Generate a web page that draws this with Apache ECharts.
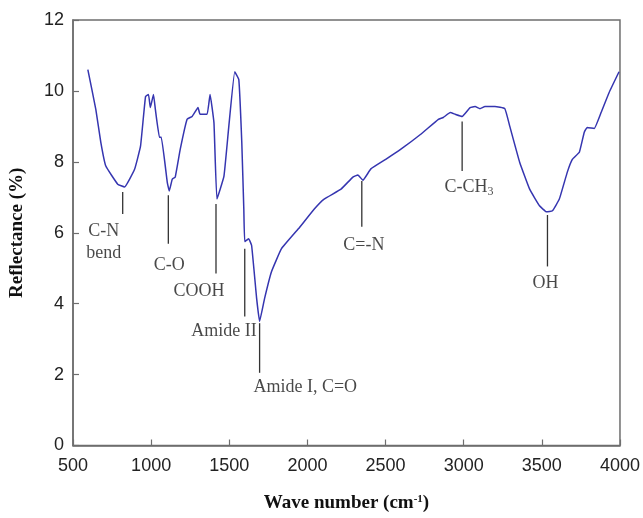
<!DOCTYPE html>
<html lang="en">
<head>
    <meta charset="utf-8">
    <title>Reflectance spectrum</title>
    <script src="https://cdn.jsdelivr.net/npm/echarts@6/dist/echarts.min.js"></script>
    <style>
        html, body {margin: 0; padding: 0; background: #fff;}
        #main {width: 643px; height: 518px;}
    </style>
</head>
<body>
<div id="main"></div>
<script type="text/javascript">
// spectrum
var waveNumber = [595, 646, 678, 710, 786, 830, 894, 932, 964, 983, 995, 1015, 1027, 1053, 1065,
    1103, 1116, 1135, 1154, 1186, 1230, 1262, 1300, 1313, 1358, 1377, 1402, 1421, 1466, 1497,
    1535, 1561, 1580, 1593, 1599, 1624, 1643, 1675, 1694, 1726, 1770, 1834, 1942, 2044, 2107,
    2215, 2291, 2323, 2355, 2406, 2501, 2596, 2723, 2838, 2869, 2914, 2946, 2990, 3041, 3073,
    3104, 3136, 3200, 3263, 3295, 3358, 3422, 3485, 3530, 3568, 3612, 3663, 3695, 3740, 3771,
    3790, 3835, 3879, 3930, 3994];
var reflectance = [10.6, 9.48, 8.55, 7.88, 7.37, 7.29, 7.79, 8.44, 9.84, 9.9, 9.53, 9.9, 9.48, 8.69, 8.69,
    7.43, 7.18, 7.51, 7.57, 8.35, 9.2, 9.28, 9.53, 9.34, 9.34, 9.9, 9.1, 6.95, 7.6, 9.0,
    10.54, 10.32, 8.55, 6.67, 5.75, 5.83, 5.64, 4.15, 3.5, 4.15, 4.9, 5.55, 6.11, 6.67, 6.95,
    7.23, 7.57, 7.63, 7.48, 7.8, 8.07, 8.35, 8.77, 9.2, 9.25, 9.39, 9.34, 9.28, 9.53, 9.56,
    9.5, 9.56, 9.56, 9.5, 9.0, 7.99, 7.23, 6.76, 6.59, 6.62, 6.95, 7.71, 8.07, 8.27, 8.83,
    8.97, 8.94, 9.39, 9.95, 10.54];

// band markers: text, x of the marker line, line top/bottom, label position (data units)
var bandNames = ['C-N\nbend', 'C-O', 'COOH', 'Amide II', 'Amide I, C=O', 'C=-N', 'C-CH3', 'OH'];
var bandX = [818, 1110, 1415, 1599, 1694, 2348, 2990, 3536];
var lineTop = [7.15, 7.06, 6.81, 5.55, 3.45, 7.46, 9.14, 6.5];
var lineBottom = [6.53, 5.69, 4.85, 3.64, 2.05, 6.17, 7.74, 5.05];
var labelX = [697, 1116, 1307, 1466, 1986, 2361, 3034, 3524];
var labelY = [5.72, 5.07, 4.35, 3.22, 1.63, 5.66, 7.29, 4.57];

var xTicks = [500, 1000, 1500, 2000, 2500, 3000, 3500, 4000];
var yTicks = [0, 2, 4, 6, 8, 10, 12];

var spectrum = waveNumber.map(function (w, i) { return [w, reflectance[i]]; });
var markers = bandX.map(function (x, i) { return [x, lineTop[i], lineBottom[i]]; });
var labels = labelX.map(function (x, i) { return [x, labelY[i], bandNames[i]]; });

var myChart = echarts.init(document.getElementById('main'));
var axisGrey = '#6e6e6e';
var serif = '"Liberation Serif", "Times New Roman", serif';

myChart.setOption({
    animation: false,
    grid: {
        left: 70, right: 22, top: 20, bottom: 70,
        show: true, borderColor: axisGrey, borderWidth: 1.5
    },
    xAxis: {
        type: 'value',
        min: xTicks[0], max: xTicks[xTicks.length - 1], interval: 500,
        name: 'Wave number (cm{sup|-1})',
        nameLocation: 'middle', nameGap: 48,
        nameTextStyle: {
            fontFamily: serif, fontWeight: 'bold', fontSize: 19, color: '#111',
            rich: {sup: {fontFamily: serif, fontWeight: 'bold', fontSize: 11, color: '#111', padding: [0, 0, 9, 0]}}
        },
        axisLine: {lineStyle: {color: axisGrey, width: 1.5}},
        axisTick: {inside: true, length: 6, lineStyle: {color: axisGrey, width: 1.2}},
        splitLine: {show: false},
        axisLabel: {
            fontFamily: '"Liberation Sans", Arial, sans-serif', fontSize: 18, color: '#222', margin: 12,
            formatter: function (v) { return String(v); }
        }
    },
    yAxis: {
        type: 'value',
        min: yTicks[0], max: yTicks[yTicks.length - 1], interval: 2,
        name: 'Reflectance (%)',
        nameLocation: 'middle', nameGap: 46,
        nameTextStyle: {fontFamily: serif, fontWeight: 'bold', fontSize: 19, color: '#111'},
        axisLine: {show: true, lineStyle: {color: axisGrey, width: 1.5}},
        axisTick: {show: true, inside: true, length: 6, lineStyle: {color: axisGrey, width: 1.2}},
        splitLine: {show: false},
        axisLabel: {
            fontFamily: '"Liberation Sans", Arial, sans-serif', fontSize: 18, color: '#222', margin: 9,
            formatter: function (v) { return String(v); }
        }
    },
    series: [{
        type: 'line',
        data: spectrum,
        showSymbol: false,
        smooth: 0.1,
        lineStyle: {color: '#3535b0', width: 1.5}
    }, {
        type: 'custom',
        data: markers,
        renderItem: function (params, api) {
            var p1 = api.coord([api.value(0), api.value(1)]);
            var p2 = api.coord([api.value(0), api.value(2)]);
            return {
                type: 'line',
                shape: {x1: p1[0], y1: p1[1], x2: p2[0], y2: p2[1]},
                style: {stroke: '#333', lineWidth: 1.3}
            };
        }
    }, {
        type: 'scatter',
        data: labels,
        symbolSize: 0,
        silent: true,
        label: {
            show: true,
            position: [0, 0],
            align: 'center',
            verticalAlign: 'middle',
            color: '#1a1a1a',
            textBorderWidth: 0,
            formatter: function (p) {
                var t = p.data[2];
                if (t === 'C-CH3') return '{n|C-CH}{s|3}';
                return '{n|' + t.split('\n').join('}\n{n|') + '}';
            },
            rich: {
                n: {fontFamily: serif, fontSize: 18, color: '#1a1a1a', lineHeight: 22, textBorderWidth: 0},
                s: {fontFamily: serif, fontSize: 12, color: '#1a1a1a', padding: [9, 0, 0, 0], textBorderWidth: 0}
            }
        }
    }]
});
</script>
</body>
</html>
